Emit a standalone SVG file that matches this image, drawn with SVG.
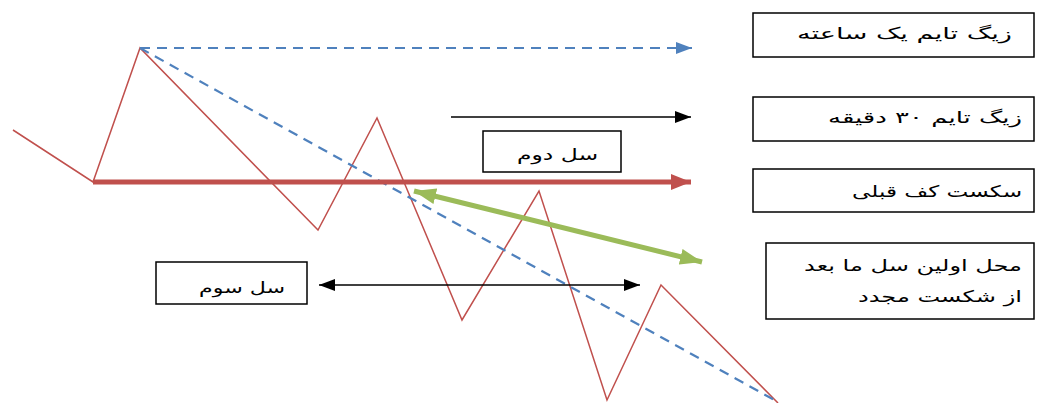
<svg xmlns="http://www.w3.org/2000/svg" width="1037" height="403" viewBox="0 0 1037 403">
<style>
.box{fill:#fff;stroke:#000;stroke-width:1.5}
.lbl{font-family:"DejaVu Sans",sans-serif;font-size:16px;fill:#000;text-anchor:end}
.zig{fill:none;stroke:#C0504D;stroke-width:1.5;stroke-linejoin:miter}
.blue{fill:none;stroke:#4F81BD;stroke-width:2.2;stroke-dasharray:10 7}
</style>
<defs>
<marker id="aBlue" markerUnits="userSpaceOnUse" markerWidth="16" markerHeight="12" refX="16" refY="6" orient="auto"><path d="M0,0 L16,6 L0,12 Z" fill="#4F81BD"/></marker>
<marker id="aRed" markerUnits="userSpaceOnUse" markerWidth="20" markerHeight="16" refX="20" refY="8" orient="auto"><path d="M0,0 L20,8 L0,16 Z" fill="#C0504D"/></marker>
<marker id="aGreen" markerUnits="userSpaceOnUse" markerWidth="22" markerHeight="16" refX="22" refY="8" orient="auto-start-reverse"><path d="M0,0 L22,8 L0,16 Z" fill="#9BBB59"/></marker>
<marker id="aBlack" markerUnits="userSpaceOnUse" markerWidth="16" markerHeight="12" refX="16" refY="6" orient="auto-start-reverse"><path d="M0,0 L16,6 L0,12 Z" fill="#000"/></marker>
</defs>
<rect width="1037" height="403" fill="#fff"/>
<g id="connectors">
<polyline class="zig" points="13,130 93,182 140,48 318,230 377,118 462,320 539,191 607,400 661,285 778,403"/>
<line class="blue" x1="140" y1="48" x2="692" y2="48" marker-end="url(#aBlue)"/>
<line class="blue" x1="140" y1="48" x2="778" y2="402"/>
<line x1="93" y1="182" x2="691" y2="182" stroke="#C0504D" stroke-width="5" marker-end="url(#aRed)"/>
<line x1="451" y1="117" x2="691" y2="117" stroke="#000" stroke-width="1.5" marker-end="url(#aBlack)"/>
<line x1="414" y1="191" x2="702" y2="262" stroke="#9BBB59" stroke-width="5" marker-start="url(#aGreen)" marker-end="url(#aGreen)"/>
<line x1="319" y1="285" x2="640" y2="285" stroke="#000" stroke-width="1.5" marker-start="url(#aBlack)" marker-end="url(#aBlack)"/>
</g>
<g id="box-1h">
<rect class="box" x="753" y="13" width="281" height="44"/>
<text class="lbl" x="1012" y="39" textLength="215" lengthAdjust="spacingAndGlyphs">زیگ تایم یک ساعته</text>
</g>
<g id="box-30m">
<rect class="box" x="753" y="97" width="281" height="44"/>
<text class="lbl" x="1022" y="123" textLength="194" lengthAdjust="spacingAndGlyphs">زیگ تایم ۳۰ دقیقه</text>
</g>
<g id="box-break">
<rect class="box" x="753" y="169" width="281" height="43"/>
<text class="lbl" x="1022" y="197" textLength="170" lengthAdjust="spacingAndGlyphs">سکست کف قبلی</text>
</g>
<g id="box-first">
<rect class="box" x="766" y="243" width="268" height="76"/>
<text class="lbl" x="1022" y="271" textLength="218" lengthAdjust="spacingAndGlyphs">محل اولین سل ما بعد</text>
<text class="lbl" x="1022" y="302" textLength="164" lengthAdjust="spacingAndGlyphs">از شکست مجدد</text>
</g>
<g id="box-second">
<rect class="box" x="483" y="131" width="138" height="41"/>
<text class="lbl" x="598" y="160" textLength="81" lengthAdjust="spacingAndGlyphs">سل دوم</text>
</g>
<g id="box-third">
<rect class="box" x="156" y="262" width="151" height="42"/>
<text class="lbl" x="285" y="293" textLength="86" lengthAdjust="spacingAndGlyphs">سل سوم</text>
</g>
</svg>
